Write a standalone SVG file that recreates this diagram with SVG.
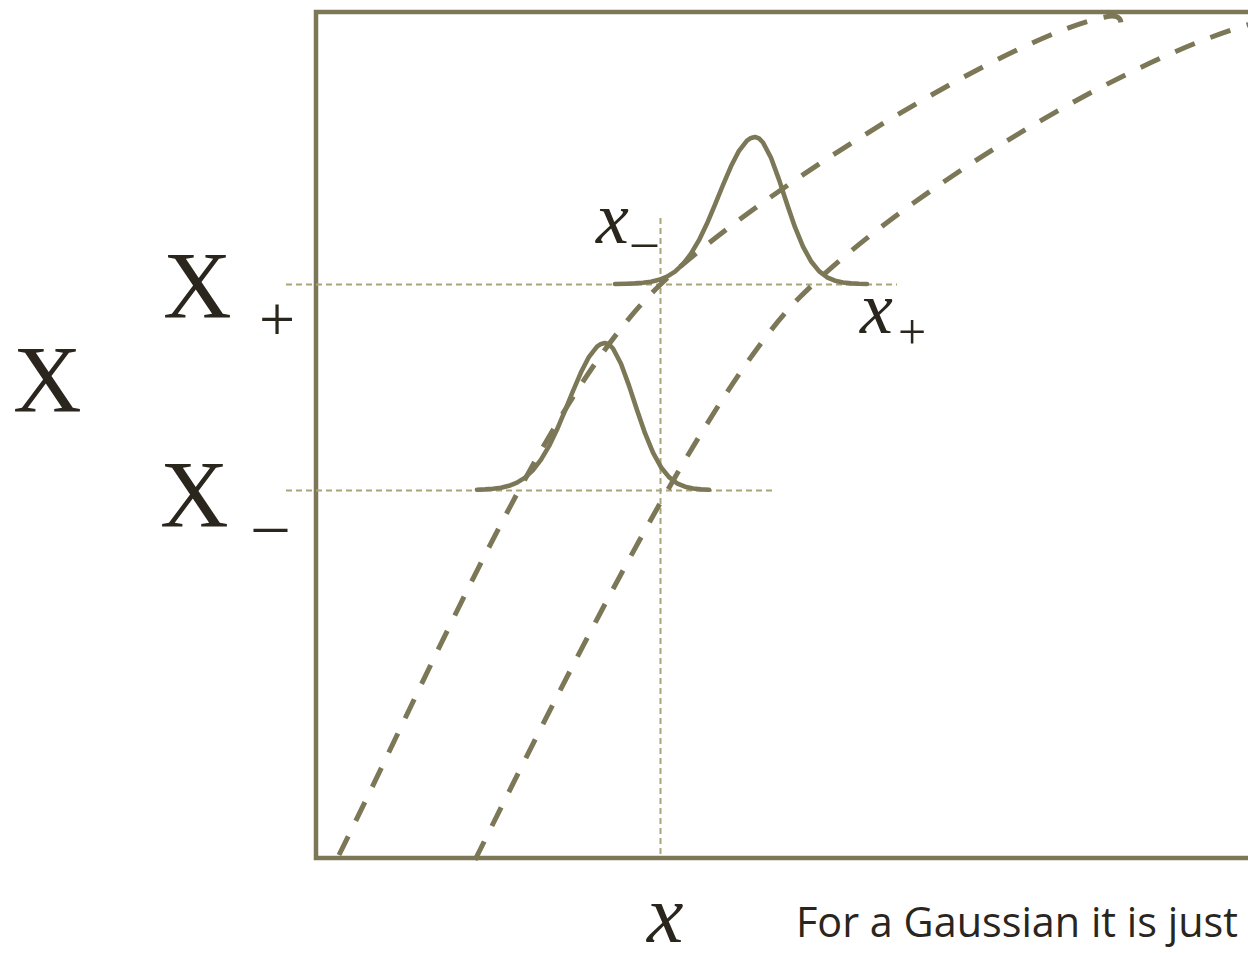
<svg xmlns="http://www.w3.org/2000/svg" width="1248" height="953" viewBox="0 0 1248 953">
<style>
.frame{fill:none;stroke:#7b7757;stroke-width:4.5;stroke-linejoin:miter}
.curve{fill:none;stroke:#7b7757;stroke-width:5;stroke-dasharray:21 17;stroke-linecap:butt}
.gauss{fill:none;stroke:#7b7757;stroke-width:4.6;stroke-linejoin:round;stroke-linecap:round}
.guide{fill:none;stroke:#a9a579;stroke-width:2;stroke-dasharray:6 4}
.serif{font-family:"Liberation Serif","Times New Roman",serif;fill:#2a251d}
.it{font-style:italic}
.sans{font-family:"Open Sans","Liberation Sans",sans-serif;fill:#2a251d}
</style>
<rect width="1248" height="953" fill="#ffffff"/>
<g id="frame">
<path class="frame" d="M1252,12 H316 V858 H1252"/>
</g>
<g id="guides">
<line class="guide" x1="286" y1="284.5" x2="897" y2="284.5"/>
<line class="guide" x1="286" y1="490.5" x2="773" y2="490.5"/>
<line class="guide" x1="660.5" y1="218" x2="660.5" y2="855"/>
</g>
<g id="curves">
<path class="curve" d="M339,855 C436,660 551,388 660,285 C754,195 1007,37 1105,17 Q1122,13 1121,25"/>
<path class="curve" d="M475,860 C564,681 708,389 800,297 C906,191 1134,53 1262,21"/>
</g>
<g id="gaussians">
<path id="g-upper" class="gauss" transform="translate(755,137)" d="M-140,147 L-128,146.7 -120,146.4 -112,145.8 -104,144.7 -96,142.8 -88,139.6 -80,134.6 -72,127.1 -64,116.7 -56,103.2 -48,86.6 -40,67.7 -32,48 -24,29.3 -16,13.8 -8,3.6 -4,0.9 0,0 4,1.4 8,5.5 16,20.8 24,42.6 32,67 40,90.2 48,109.6 56,124.2 64,134.1 72,140.3 80,143.7 88,145.5 96,146.4 104,146.8 112,147"/>
<path id="g-lower" class="gauss" transform="translate(605,343)" d="M-128,146.7 L-120,146.4 -112,145.8 -104,144.7 -96,142.8 -88,139.6 -80,134.6 -72,127.1 -64,116.7 -56,103.2 -48,86.6 -40,67.7 -32,48 -24,29.3 -16,13.8 -8,3.6 -4,0.9 0,0 4,1.4 8,5.5 16,20.8 24,42.6 32,67 40,90.2 48,109.6 56,124.2 64,134.1 72,140.3 80,143.7 88,145.5 96,146.4 104,146.8"/>
</g>
<g id="labels">
<text class="serif" x="13" y="412" font-size="95">X</text>
<text class="serif" x="163" y="318" font-size="95">X</text>
<text class="serif" x="277" y="341" font-size="64" text-anchor="middle">+</text>
<text class="serif" x="160" y="527" font-size="95">X</text>
<text class="serif" x="254" y="524" font-size="66">_</text>
<text class="serif it" x="596" y="243" font-size="74">x</text>
<text class="serif" x="632" y="240" font-size="50">_</text>
<text class="serif it" x="860" y="333" font-size="74">x</text>
<text class="serif" x="912" y="349" font-size="50" text-anchor="middle">+</text>
<text class="serif it" x="647" y="942" font-size="82">x</text>
<text class="sans" x="796" y="937" font-size="42" textLength="442" lengthAdjust="spacingAndGlyphs">For a Gaussian it is just</text>
</g>
</svg>
